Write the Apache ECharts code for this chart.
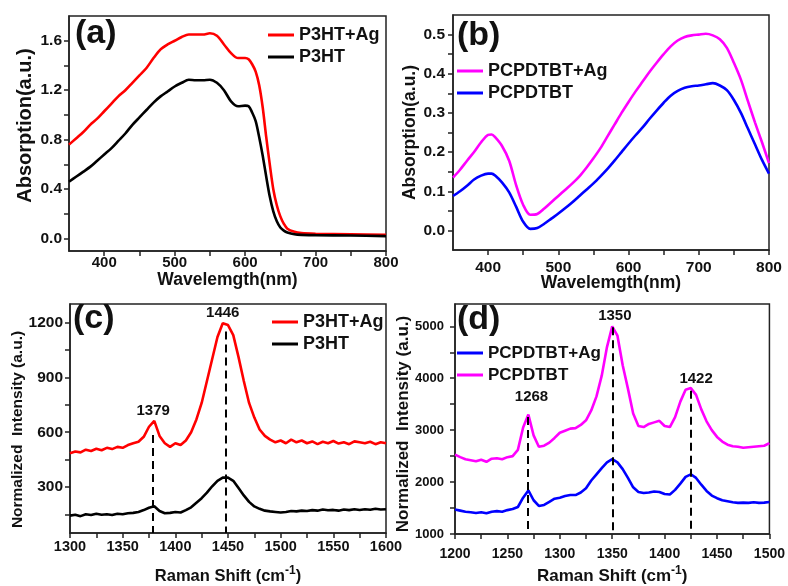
<!DOCTYPE html>
<html>
<head>
<meta charset="utf-8">
<script src="https://cdn.jsdelivr.net/npm/echarts@6/dist/echarts.min.js"></script>
<style>html,body{margin:0;padding:0;background:#fff;}</style>
</head>
<body>
<div id="main" style="width:788px;height:586px"></div>
<script type="text/javascript">
// (a) P3HT absorption
var aX = [350,360,370,380,390,400,410,420,430,440,450,460,470,480,490,500,510,520,530,540,550,560,
          570,580,590,600,605,610,615,620,625,630,635,640,645,650,655,660,670,680,700,750,800];
var aAg = [0.76,0.81,0.86,0.92,0.97,1.03,1.09,1.15,1.20,1.26,1.32,1.38,1.46,1.53,1.57,1.60,1.63,1.65,1.65,1.65,1.66,1.64,
           1.57,1.50,1.46,1.46,1.45,1.41,1.35,1.24,1.06,0.82,0.60,0.40,0.27,0.18,0.12,0.08,0.055,0.045,0.04,0.035,0.03];
var aP3 = [0.46,0.50,0.54,0.58,0.63,0.68,0.73,0.79,0.85,0.92,0.98,1.04,1.10,1.15,1.19,1.23,1.26,1.285,1.28,1.28,1.285,1.26,
           1.20,1.11,1.07,1.075,1.07,1.02,0.95,0.82,0.67,0.50,0.34,0.22,0.14,0.09,0.065,0.05,0.035,0.03,0.028,0.025,0.02];

// (b) PCPDTBT absorption
var bX = [350,360,370,380,390,400,405,410,420,430,440,450,460,470,480,490,500,510,520,530,540,550,560,570,580,590,
          600,610,620,630,640,650,660,670,680,690,700,710,720,730,740,750,760,770,780,790,800];
var bAg = [0.135,0.155,0.178,0.20,0.225,0.244,0.245,0.238,0.215,0.178,0.115,0.065,0.040,0.042,0.056,0.072,0.088,0.104,0.12,0.138,0.16,0.184,0.21,0.24,0.27,0.30,
           0.328,0.355,0.38,0.405,0.428,0.45,0.47,0.485,0.494,0.498,0.50,0.502,0.498,0.488,0.466,0.428,0.385,0.33,0.276,0.225,0.172];
var bPC = [0.088,0.10,0.114,0.13,0.14,0.145,0.145,0.14,0.122,0.097,0.06,0.022,0.004,0.006,0.017,0.03,0.043,0.057,0.072,0.088,0.104,0.12,0.138,0.157,0.178,0.20,
           0.222,0.243,0.263,0.285,0.306,0.326,0.344,0.356,0.364,0.368,0.37,0.373,0.376,0.37,0.358,0.333,0.30,0.26,0.22,0.18,0.145];

// (c) P3HT Raman
var cX = [1300,1305,1310,1315,1320,1325,1330,1335,1340,1345,1350,1355,1360,1365,1370,1375,1380,1385,1390,1395,
          1400,1405,1410,1415,1420,1425,1430,1435,1440,1445,1450,1455,1460,1465,1470,1475,1480,1485,1490,1495,
          1500,1505,1510,1515,1520,1525,1530,1535,1540,1545,1550,1555,1560,1565,1570,1575,1580,1585,1590,1595,1600];
var cAg = [485,495,490,505,498,510,502,515,508,520,515,530,540,548,575,630,662,580,540,520,
           540,530,555,600,670,760,880,1000,1120,1195,1185,1130,1010,880,760,680,615,580,560,545,
           555,540,560,545,555,540,550,535,548,540,552,538,545,535,550,545,540,548,535,545,540];
var cP3 = [145,150,142,152,148,155,150,152,148,155,152,158,160,165,175,188,196,170,158,160,
           165,162,175,190,215,240,270,305,335,352,352,335,295,255,220,195,182,172,168,165,
           162,165,170,168,172,170,175,172,178,174,176,172,178,175,180,176,180,177,182,178,180];
var cPeakX = [1379, 1448];
var cPeakTop = [585, 1150];
var cTagX = [1379, 1445];
var cTagY = [715, 1254];
var cTags = ['1379', '1446'];

// (d) PCPDTBT Raman
var dX = [1200,1205,1210,1215,1220,1225,1230,1235,1240,1245,1250,1255,1260,1265,1270,1275,1280,1285,1290,1295,
          1300,1305,1310,1315,1320,1325,1330,1335,1340,1345,1350,1355,1360,1365,1370,1375,1380,1385,1390,1395,
          1400,1405,1410,1415,1420,1425,1430,1435,1440,1445,1450,1455,1460,1465,1470,1475,1480,1485,1490,1495,1500];
var dPC = [2530,2480,2440,2420,2400,2430,2390,2450,2460,2440,2480,2500,2620,3050,3300,2900,2680,2700,2760,2850,
           2950,2990,3030,3040,3100,3190,3380,3650,4050,4600,5000,4820,4250,3800,3320,3080,3060,3120,3150,3180,
           3080,3060,3250,3550,3780,3810,3680,3400,3170,3000,2870,2780,2720,2690,2680,2660,2670,2680,2690,2700,2750];
var dAg = [1470,1450,1430,1420,1405,1420,1400,1430,1440,1430,1460,1480,1520,1700,1840,1650,1540,1560,1620,1680,
           1700,1730,1750,1750,1800,1880,2030,2150,2270,2380,2440,2380,2250,2080,1900,1810,1790,1800,1820,1810,
           1770,1760,1850,1970,2100,2150,2080,1950,1830,1740,1690,1650,1630,1610,1600,1605,1600,1610,1600,1605,1615];
var dPeakX = [1269.6, 1350.3, 1424.7];
var dPeakTop = [3254, 4980, 3760];
var dTagX = [1273, 1352.5, 1430];
var dTagY = [3642, 5206, 3992];
var dTags = ['1268', '1350', '1422'];

// axis ticks and labels
var absXTicks = [400,450,500,550,600,650,700,750,800];
var absXLabels = [400,500,600,700,800];
var aYTicks = [0,0.2,0.4,0.6,0.8,1.0,1.2,1.4,1.6];
var aYLabels = [0,0.4,0.8,1.2,1.6];
var bYTicks = [0,0.05,0.1,0.15,0.2,0.25,0.3,0.35,0.4,0.45,0.5];
var bYLabels = [0,0.1,0.2,0.3,0.4,0.5];
var cXTicks = [1300,1325,1350,1375,1400,1425,1450,1475,1500,1525,1550,1575,1600];
var cXLabels = [1300,1350,1400,1450,1500,1550,1600];
var cYTicks = [150,300,450,600,750,900,1050,1200];
var cYLabels = [300,600,900,1200];
var dXTicks = [1200,1225,1250,1275,1300,1325,1350,1375,1400,1425,1450,1475,1500];
var dXLabels = [1200,1250,1300,1350,1400,1450,1500];
var dYTicks = [1000,1500,2000,2500,3000,3500,4000,4500,5000];
var dYLabels = [1000,2000,3000,4000,5000];

var FONT = 'Liberation Sans';
var AX = '#222';

function pairs(xs, ys) { return xs.map(function (x, i) { return [x, ys[i]]; }); }
function plain(v) { return String(v); }
function fix1(v) { return v.toFixed(1); }

function xAxisOf(g, min, max, ticks, labels, size, margin, name, nameSize, nameGap) {
    return {
        type: 'value', gridIndex: g, min: min, max: max,
        axisLine: {show: true, onZero: false, lineStyle: {color: AX, width: 1.5}},
        axisTick: {show: true, length: 5, customValues: ticks, lineStyle: {color: AX, width: 1.5}},
        axisLabel: {customValues: labels, margin: margin, formatter: plain, color: '#111', fontSize: size, fontWeight: 'bold', fontFamily: FONT},
        splitLine: {show: false},
        name: name, nameLocation: 'middle', nameGap: nameGap, nameMoveOverlap: false,
        nameTextStyle: {
            color: '#111', fontSize: nameSize, fontWeight: 'bold', fontFamily: FONT,
            rich: {
                n: {fontSize: nameSize, fontWeight: 'bold', fontFamily: FONT, color: '#111', verticalAlign: 'bottom'},
                s: {fontSize: 12, fontWeight: 'bold', fontFamily: FONT, color: '#111', verticalAlign: 'bottom', padding: [0, 0, 8, 0]}
            }
        }
    };
}
function yAxisOf(g, min, max, ticks, labels, size, margin, fmt, name, nameSize, nameGap, namePad) {
    return {
        type: 'value', gridIndex: g, min: min, max: max,
        axisLine: {show: true, onZero: false, lineStyle: {color: AX, width: 1.5}},
        axisTick: {show: true, length: 5, customValues: ticks, lineStyle: {color: AX, width: 1.5}},
        axisLabel: {customValues: labels, margin: margin, color: '#111', fontSize: size, fontWeight: 'bold', fontFamily: FONT, formatter: fmt},
        splitLine: {show: false},
        name: name, nameLocation: 'middle', nameGap: nameGap, nameMoveOverlap: false,
        nameTextStyle: {color: '#111', fontSize: nameSize, fontWeight: 'bold', fontFamily: FONT, padding: namePad}
    };
}
function curve(name, g, xs, ys, color, extra) {
    var s = {
        name: name, type: 'line', xAxisIndex: g, yAxisIndex: g,
        data: pairs(xs, ys), showSymbol: false, symbol: 'none',
        lineStyle: {color: color, width: 2.6}, itemStyle: {color: color}
    };
    if (extra) for (var k in extra) s[k] = extra[k];
    return s;
}
function dashes(xs, tops, bottom) {
    return {
        silent: true, symbol: ['none', 'none'], label: {show: false},
        lineStyle: {color: '#000', width: 2, type: [8, 5]},
        data: xs.map(function (x, i) { return [{coord: [x, tops[i]]}, {coord: [x, bottom]}]; })
    };
}
function tags(g, xs, ys, names) {
    return {
        type: 'scatter', xAxisIndex: g, yAxisIndex: g, silent: true,
        symbolSize: 0, itemStyle: {color: '#000'},
        data: xs.map(function (x, i) { return {value: [x, ys[i]], name: names[i]}; }),
        label: {show: true, position: 'inside', formatter: '{b}', color: '#111', opacity: 1, fontSize: 15, fontWeight: 'bold', fontFamily: FONT}
    };
}
function legendOf(left, top, names, size) {
    return {
        left: left, top: top, orient: 'vertical', padding: 0, itemGap: 4,
        itemWidth: 26, itemHeight: 3, icon: 'rect', selectedMode: false, data: names,
        formatter: function (n) { return n.replace(/ \(\w\)$/, ''); },
        textStyle: {fontSize: size, lineHeight: 18, fontWeight: 'bold', fontFamily: FONT, color: '#111'}
    };
}
var ramanName = '{n|Raman Shift (cm}{s|-1}{n|)}';
var panelText = {fontSize: 34, fontWeight: 'bold', fontFamily: FONT, color: '#111'};

var myChart = echarts.init(document.getElementById('main'));
myChart.setOption({
    animation: false,
    backgroundColor: '#fff',
    title: [
        {text: '(a)', left: 75, top: 17, padding: 0, textStyle: panelText},
        {text: '(b)', left: 457, top: 19, padding: 0, textStyle: panelText},
        {text: '(c)', left: 73, top: 302, padding: 0, textStyle: panelText},
        {text: '(d)', left: 457, top: 303, padding: 0, textStyle: panelText}
    ],
    grid: [
        {left: 69, top: 16, width: 317, height: 235, show: true, borderColor: AX, borderWidth: 1.5},
        {left: 453, top: 15, width: 316, height: 235, show: true, borderColor: AX, borderWidth: 1.5},
        {left: 70, top: 304, width: 316, height: 233, show: true, borderColor: AX, borderWidth: 1.5},
        {left: 455, top: 304, width: 316, height: 236, show: true, borderColor: AX, borderWidth: 1.5}
    ],
    legend: [
        legendOf(268, 26, ['P3HT+Ag (a)', 'P3HT (a)'], 18),
        legendOf(457, 62, ['PCPDTBT+Ag (b)', 'PCPDTBT (b)'], 18),
        legendOf(272, 313, ['P3HT+Ag (c)', 'P3HT (c)'], 18),
        legendOf(457, 344, ['PCPDTBT+Ag (d)', 'PCPDTBT (d)'], 17)
    ],
    xAxis: [
        xAxisOf(0, 350, 800, absXTicks, absXLabels, 15, 4, 'Wavelemgth(nm)', 17.5, 20),
        xAxisOf(1, 350, 800, absXTicks, absXLabels, 15.5, 10, 'Wavelemgth(nm)', 17.5, 24),
        xAxisOf(2, 1300, 1600, cXTicks, cXLabels, 14.5, 6, ramanName, 16.5, 32),
        xAxisOf(3, 1200, 1500, dXTicks, dXLabels, 14, 13, ramanName, 17, 31)
    ],
    yAxis: [
        yAxisOf(0, -0.1, 1.8, aYTicks, aYLabels, 15.5, 7, fix1, 'Absorption(a.u.)', 20, 34, [0, 0, 0, 16]),
        yAxisOf(1, -0.05, 0.55, bYTicks, bYLabels, 15.5, 8, fix1, 'Absorption(a.u.)', 17.5, 34, 0),
        yAxisOf(2, 50, 1300, cYTicks, cYLabels, 15.5, 7, plain, 'Normalized  Intensity (a.u.)', 15.5, 44, [0, 22, 0, 0]),
        yAxisOf(3, 1000, 5430, dYTicks, dYLabels, 13, 11, plain, 'Normalized  Intensity (a.u.)', 17, 43, [0, 10, 0, 0])
    ],
    series: [
        curve('P3HT+Ag (a)', 0, aX, aAg, '#ff0000', {smooth: 0.3}),
        curve('P3HT (a)', 0, aX, aP3, '#000000', {smooth: 0.3}),
        curve('PCPDTBT+Ag (b)', 1, bX, bAg, '#ff00ff', {smooth: 0.3}),
        curve('PCPDTBT (b)', 1, bX, bPC, '#0000ff', {smooth: 0.3}),
        curve('P3HT+Ag (c)', 2, cX, cAg, '#ff0000', {markLine: dashes(cPeakX, cPeakTop, 50)}),
        curve('P3HT (c)', 2, cX, cP3, '#000000'),
        tags(2, cTagX, cTagY, cTags),
        curve('PCPDTBT+Ag (d)', 3, dX, dAg, '#0000ff', {markLine: dashes(dPeakX, dPeakTop, 1000)}),
        curve('PCPDTBT (d)', 3, dX, dPC, '#ff00ff'),
        tags(3, dTagX, dTagY, dTags)
    ]
});
</script>
</body>
</html>
